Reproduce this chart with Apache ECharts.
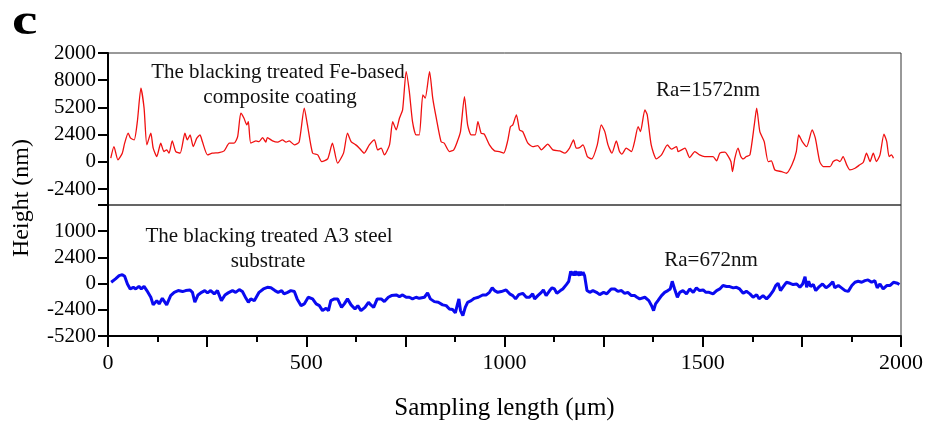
<!DOCTYPE html>
<html>
<head>
<meta charset="utf-8">
<script src="https://cdn.jsdelivr.net/npm/echarts@6/dist/echarts.min.js"></script>
<style>
  html, body { margin: 0; padding: 0; background: #fff; }
  #chart { width: 926px; height: 422px; }
</style>
</head>
<body>
<div id="chart"></div>
<script>
// surface profiles, sampling length in um, height in nm
const coatX = [7, 15, 25, 36, 42, 51, 57, 66, 74, 83, 91, 98, 108, 114, 123, 133, 141, 148, 154, 162, 171, 182, 194, 200, 207, 215, 224, 232, 238, 251, 263, 280, 293, 306, 318, 327, 335, 343, 350, 354, 360, 373, 381, 390, 398, 402, 415, 428, 440, 449, 457, 470, 482, 495, 503, 516, 529, 539, 554, 566, 579, 594, 604, 613, 625, 634, 646, 659, 672, 680, 689, 697, 710, 718, 727, 735, 743, 752, 760, 768, 777, 785, 794, 800, 811, 819, 828, 840, 848, 861, 872, 881, 889, 899, 907, 916, 926, 933, 941, 949, 962, 975, 987, 998, 1008, 1015, 1021, 1030, 1038, 1046, 1059, 1071, 1084, 1093, 1109, 1122, 1139, 1152, 1164, 1174, 1181, 1189, 1198, 1209, 1220, 1234, 1244, 1253, 1261, 1271, 1282, 1290, 1296, 1307, 1320, 1328, 1337, 1343, 1354, 1360, 1370, 1383, 1396, 1411, 1421, 1434, 1438, 1455, 1467, 1480, 1492, 1505, 1518, 1526, 1535, 1543, 1556, 1562, 1571, 1575, 1581, 1589, 1596, 1602, 1610, 1619, 1630, 1636, 1644, 1655, 1665, 1673, 1682, 1699, 1711, 1725, 1736, 1742, 1751, 1762, 1776, 1784, 1795, 1804, 1821, 1829, 1838, 1846, 1854, 1863, 1871, 1884, 1896, 1905, 1913, 1922, 1930, 1938, 1947, 1957, 1964, 1970, 1976, 1981];
const coatH = [330, 1350, 180, 770, 1650, 2530, 2090, 1940, 3550, 6500, 4740, 1500, 2530, 1210, 470, 1650, 910, 1060, 770, 1850, 910, 770, 2530, 1940, 2380, 1350, 2090, 2380, 1790, 620, 770, 820, 970, 1650, 1650, 2230, 4300, 3850, 3260, 3550, 1650, 1850, 1790, 2140, 1740, 2140, 1850, 1740, 1940, 1740, 1850, 1500, 1740, 4740, 3260, 770, 620, 30, 260, 1650, -110, 770, 2530, 1790, 1500, 1210, 770, 1500, 1940, 1060, 1210, 620, 1500, 3550, 2820, 3850, 4590, 7960, 6200, 3550, 2380, 2380, 5910, 5620, 7960, 5620, 3850, 1790, 1650, 910, 1060, 1790, 2670, 5760, 3260, 2380, 2380, 3550, 2530, 2440, 1500, 970, 910, 770, 1850, 3110, 3260, 4150, 2820, 2670, 1650, 1350, 1440, 1060, 1560, 1060, 970, 770, 1210, 1940, 1210, 1260, 1500, 470, 260, 1500, 3260, 2670, 1500, 770, 1850, 910, 680, 1210, 910, 1790, 3110, 2670, 4590, 4150, 1500, 260, 620, 1500, 1120, 1350, 910, 1210, 380, 910, 620, 470, 470, 470, 90, 770, 860, 620, 30, -860, 330, 1210, 470, 260, 470, 620, 3260, 4740, 2670, 1790, 30, 90, -710, -860, -1000, -260, 910, 2380, 1790, 1350, 2820, 2090, 30, -410, -410, 30, 180, 30, 470, -260, -710, -560, -260, -30, 770, 30, 770, 30, 620, 2440, 1790, 470, 620, 330];

const steelX = [8, 19, 28, 36, 42, 49, 56, 64, 70, 78, 84, 91, 98, 108, 114, 123, 129, 137, 148, 158, 167, 177, 188, 196, 207, 213, 219, 227, 236, 244, 251, 259, 268, 276, 286, 295, 303, 314, 322, 331, 339, 348, 354, 360, 369, 381, 392, 402, 411, 421, 429, 438, 444, 453, 461, 470, 477, 487, 495, 505, 516, 525, 533, 541, 550, 556, 562, 571, 579, 589, 596, 604, 613, 623, 630, 638, 648, 657, 663, 670, 679, 689, 697, 707, 715, 727, 735, 743, 752, 760, 768, 777, 785, 798, 806, 813, 823, 833, 844, 853, 861, 869, 876, 881, 885, 889, 895, 901, 907, 916, 924, 934, 945, 954, 962, 969, 975, 983, 992, 1004, 1013, 1021, 1028, 1036, 1046, 1055, 1063, 1071, 1076, 1084, 1093, 1098, 1105, 1114, 1120, 1126, 1132, 1141, 1147, 1156, 1162, 1167, 1170, 1173, 1176, 1179, 1182, 1185, 1189, 1192, 1195, 1198, 1202, 1208, 1215, 1223, 1232, 1240, 1250, 1258, 1269, 1278, 1286, 1295, 1303, 1311, 1320, 1328, 1334, 1341, 1354, 1364, 1371, 1376, 1381, 1387, 1396, 1404, 1412, 1418, 1423, 1429, 1436, 1442, 1450, 1459, 1467, 1476, 1484, 1492, 1501, 1508, 1516, 1526, 1535, 1543, 1551, 1560, 1568, 1577, 1585, 1593, 1602, 1610, 1619, 1627, 1636, 1642, 1652, 1661, 1669, 1678, 1684, 1690, 1696, 1703, 1711, 1720, 1728, 1737, 1745, 1752, 1758, 1762, 1767, 1772, 1779, 1785, 1794, 1802, 1811, 1819, 1828, 1833, 1842, 1850, 1859, 1867, 1876, 1884, 1892, 1901, 1909, 1917, 1926, 1934, 1940, 1947, 1955, 1964, 1972, 1981, 1991, 1996];
const steelH = [120, 430, 730, 820, 670, -30, -490, -340, -490, -250, -490, -250, -640, -1250, -1950, -1560, -1860, -1350, -1950, -1100, -800, -640, -730, -640, -580, -800, -1710, -1040, -800, -640, -850, -640, -940, -640, -1560, -1040, -850, -640, -800, -550, -730, -1350, -1710, -1400, -1560, -800, -490, -340, -390, -640, -800, -640, -940, -800, -640, -730, -1400, -2020, -1860, -1250, -1400, -1860, -2020, -2470, -2260, -2470, -1560, -1400, -1400, -2170, -1860, -1400, -1950, -2320, -2020, -2470, -2170, -1710, -1950, -2170, -1400, -1400, -1650, -1250, -1100, -1040, -1190, -1040, -1250, -1250, -1400, -1250, -1350, -1250, -850, -1400, -1650, -1710, -1950, -2020, -2320, -2380, -2680, -1950, -1400, -2470, -2930, -2170, -1710, -1560, -1350, -1250, -1040, -1040, -800, -390, -640, -800, -730, -580, -940, -1100, -1400, -1010, -890, -1250, -1250, -940, -1400, -1100, -800, -580, -1100, -640, -390, -490, -890, -640, -490, -90, 210, 1130, 760, 1100, 740, 1130, 760, 1080, 730, 1100, 760, 1040, 730, -640, -800, -640, -800, -1010, -800, -940, -490, -490, -710, -640, -890, -800, -1100, -1100, -1250, -1400, -1250, -1560, -2020, -2470, -1860, -1560, -1100, -800, -640, -490, 210, -490, -1250, -800, -640, -940, -490, -800, -390, -640, -580, -800, -800, -940, -640, -490, -180, -270, -270, -390, -340, -490, -890, -710, -940, -1250, -1010, -1400, -1100, -1400, -1100, -640, -180, 30, -640, -270, 120, 30, -90, -30, -340, -30, 640, -340, 210, -270, -90, -640, -270, -30, -390, -180, 180, -390, -180, -390, -640, -710, -180, 120, 210, 120, 270, 340, 120, 270, -390, -30, -490, -180, -180, 120, 30, -90];

// tick positions and the labels printed beside them
const coatTicks = [-2400, 0, 2400, 4800, 7200, 9600];
const coatTickLabels = ['-2400', '0', '2400', '5200', '8000', '2000'];
const steelTicks = [-4800, -2400, 0, 2400, 4800, 7200];
const steelTickLabels = ['-5200', '-2400', '0', '2400', '1000', ''];
const xLabelTicks = [0, 500, 1000, 1500, 2000];

const FONT = 'Liberation Serif';
const pairs = (xs, ys) => xs.map((x, i) => [x, ys[i]]);

var chart = echarts.init(document.getElementById('chart'), null, {renderer: 'canvas'});

function yAxisFor(gridIndex, min, max, ticks, labels) {
    return {
        type: 'value',
        gridIndex: gridIndex,
        min: min,
        max: max,
        splitLine: {show: false},
        axisLine: {show: true, lineStyle: {color: '#000', width: 2}},
        axisTick: {show: true, customValues: ticks, length: 10, lineStyle: {color: '#000', width: 2}},
        axisLabel: {
            show: true,
            customValues: ticks,
            margin: 12,
            color: '#000',
            fontFamily: FONT,
            fontSize: 21,
            formatter: v => labels[ticks.indexOf(v)] || ''
        }
    }
}

function annot(text, x, y, size) {
    return {
        type: 'text',
        x: x, y: y,
        style: {text: text, fill: '#111', font: size + 'px "' + FONT + '"', textAlign: 'center', textVerticalAlign: 'middle'}
    }
}

var option = {
    animation: false,
    backgroundColor: '#fff',
    grid: [
        {left: 108, right: 25, top: 53, height: 152, show: true, borderColor: '#333', borderWidth: 1},
        {left: 108, right: 25, top: 205, height: 131, show: true, borderColor: '#333', borderWidth: 1}
    ],
    xAxis: [
        {
            type: 'value', gridIndex: 0, min: 0, max: 2000,
            axisLine: {show: false}, axisTick: {show: false}, axisLabel: {show: false}, splitLine: {show: false}
        },
        {
            type: 'value', gridIndex: 1, min: 0, max: 2000, interval: 250,
            splitLine: {show: false},
            axisLine: {show: true, onZero: false, lineStyle: {color: '#000', width: 2}},
            axisTick: {show: true, length: 11, lineStyle: {color: '#000', width: 2}},
            minorTick: {show: true, splitNumber: 2, length: 6, lineStyle: {color: '#000', width: 2}},
            axisLabel: {
                margin: 16, color: '#000', fontFamily: FONT, fontSize: 22,
                formatter: v => xLabelTicks.includes(v) ? String(v) : ''
            },
            name: 'Sampling length (\u03bcm)',
            nameLocation: 'middle',
            nameGap: 60,
            nameTextStyle: {color: '#000', fontFamily: FONT, fontSize: 25}
        }
    ],
    yAxis: [
        yAxisFor(0, -3800, 9600, coatTicks, coatTickLabels),
        yAxisFor(1, -4800, 7200, steelTicks, steelTickLabels)
    ],
    series: [
        {
            name: 'Fe-based composite coating', type: 'line', xAxisIndex: 0, yAxisIndex: 0,
            data: pairs(coatX, coatH), showSymbol: false, smooth: 0.2,
            lineStyle: {color: '#f01010', width: 1.3}
        },
        {
            name: 'A3 steel substrate', type: 'line', xAxisIndex: 1, yAxisIndex: 1,
            data: pairs(steelX, steelH), showSymbol: false,
            lineStyle: {color: '#0a0af0', width: 3}
        }
    ],
    graphic: [
        {type: 'text', x: 12, y: 1, scaleX: 1.3,
         style: {text: 'c', fill: '#000', font: 'bold 44px "' + FONT + '"'}},
        {type: 'text', x: 22, y: 198, rotation: Math.PI / 2,
         style: {text: 'Height (nm)', fill: '#000', font: '24px "' + FONT + '"', textAlign: 'center', textVerticalAlign: 'middle'}},
        annot('The blacking treated Fe-based', 278, 72, 21),
        annot('composite coating', 280, 97, 21),
        annot('Ra=1572nm', 708, 90, 21),
        annot('The blacking treated A3 steel', 269, 236, 21),
        annot('substrate', 268, 261, 21),
        annot('Ra=672nm', 711, 260, 21)
    ]
};

chart.setOption(option);
</script>
</body>
</html>
